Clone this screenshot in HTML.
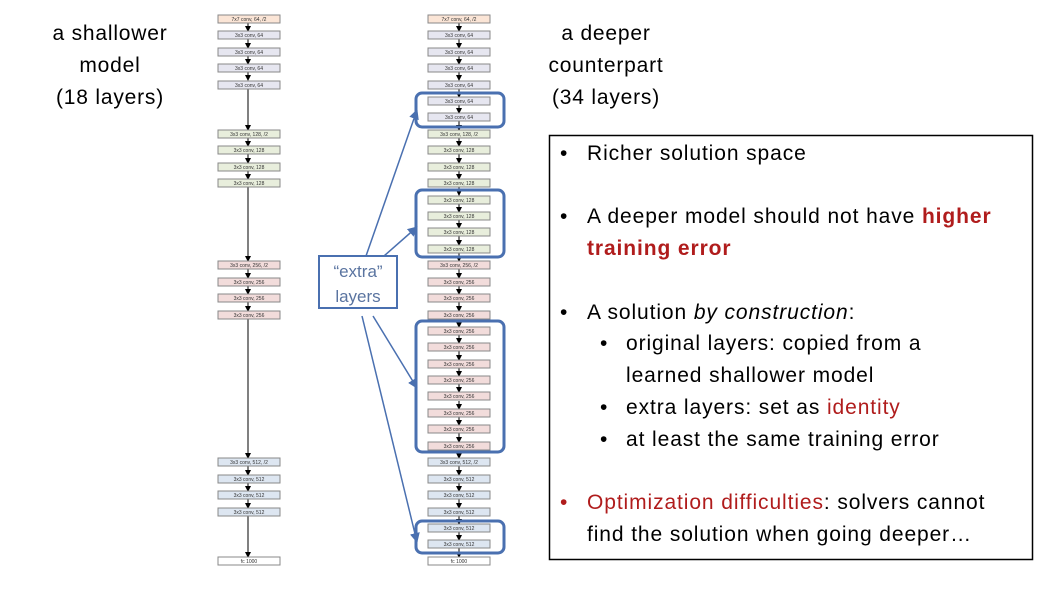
<!DOCTYPE html>
<html><head><meta charset="utf-8"><style>
body{margin:0;width:1058px;height:595px;background:#fff;position:relative;overflow:hidden;font-family:"Liberation Sans",sans-serif}
.t{position:absolute;font-size:21px;letter-spacing:0.9px;color:#000;white-space:nowrap;line-height:1}
.c{text-align:center;width:200px;letter-spacing:0.8px}
.r{color:#b01c1c}
</style></head><body>
<svg width="1058" height="595" style="position:absolute;left:0;top:0" font-family="Liberation Sans, sans-serif">
<defs>
<marker id="a" markerWidth="6" markerHeight="6" refX="5" refY="3" orient="auto" markerUnits="userSpaceOnUse"><path d="M0,0 L6,3 L0,6z" fill="#000"/></marker>
<marker id="b" markerWidth="10" markerHeight="10" refX="9" refY="5" orient="auto" markerUnits="userSpaceOnUse"><path d="M0,0 L10,5 L0,10z" fill="#4a70b0"/></marker>
</defs>
<g stroke="#000" stroke-width="1" marker-end="url(#a)">
<line x1="248" y1="23" x2="248" y2="31"/><line x1="248" y1="39" x2="248" y2="48"/><line x1="248" y1="56" x2="248" y2="64"/><line x1="248" y1="72" x2="248" y2="80"/>
<line x1="248" y1="89" x2="248" y2="130"/>
<line x1="248" y1="138" x2="248" y2="146"/><line x1="248" y1="154" x2="248" y2="163"/><line x1="248" y1="171" x2="248" y2="179"/>
<line x1="248" y1="187" x2="248" y2="261"/>
<line x1="248" y1="269" x2="248" y2="278"/><line x1="248" y1="286" x2="248" y2="294"/><line x1="248" y1="302" x2="248" y2="311"/>
<line x1="248" y1="319" x2="248" y2="458"/>
<line x1="248" y1="466" x2="248" y2="475"/><line x1="248" y1="483" x2="248" y2="491"/><line x1="248" y1="499" x2="248" y2="508"/>
<line x1="248" y1="516" x2="248" y2="557"/>
</g>
<g stroke="#000" stroke-width="1" marker-end="url(#a)">
<line x1="459" y1="23" x2="459" y2="31"/><line x1="459" y1="39" x2="459" y2="48"/><line x1="459" y1="56" x2="459" y2="64"/><line x1="459" y1="72" x2="459" y2="80"/><line x1="459" y1="89" x2="459" y2="97"/><line x1="459" y1="105" x2="459" y2="113"/><line x1="459" y1="121" x2="459" y2="130"/><line x1="459" y1="138" x2="459" y2="146"/><line x1="459" y1="154" x2="459" y2="163"/><line x1="459" y1="171" x2="459" y2="179"/><line x1="459" y1="187" x2="459" y2="195"/><line x1="459" y1="204" x2="459" y2="212"/><line x1="459" y1="220" x2="459" y2="228"/><line x1="459" y1="236" x2="459" y2="245"/><line x1="459" y1="253" x2="459" y2="261"/><line x1="459" y1="269" x2="459" y2="278"/><line x1="459" y1="286" x2="459" y2="294"/><line x1="459" y1="302" x2="459" y2="311"/><line x1="459" y1="319" x2="459" y2="327"/><line x1="459" y1="335" x2="459" y2="343"/><line x1="459" y1="351" x2="459" y2="360"/><line x1="459" y1="368" x2="459" y2="376"/><line x1="459" y1="384" x2="459" y2="392"/><line x1="459" y1="401" x2="459" y2="409"/><line x1="459" y1="417" x2="459" y2="425"/><line x1="459" y1="433" x2="459" y2="442"/><line x1="459" y1="450" x2="459" y2="458"/><line x1="459" y1="466" x2="459" y2="475"/><line x1="459" y1="483" x2="459" y2="491"/><line x1="459" y1="499" x2="459" y2="508"/><line x1="459" y1="516" x2="459" y2="524"/><line x1="459" y1="532" x2="459" y2="540"/><line x1="459" y1="548" x2="459" y2="557"/>
</g>
<g stroke="#888" stroke-width="1" font-size="5" text-anchor="middle">
<g fill="#fbe5d6"><rect x="218" y="15" width="62" height="8"/><rect x="428" y="15" width="62" height="8"/></g>
<g fill="#e6e6f0">
<rect x="218" y="31" width="62" height="8"/><rect x="218" y="48" width="62" height="8"/><rect x="218" y="64" width="62" height="8"/><rect x="218" y="81" width="62" height="8"/>
<rect x="428" y="31" width="62" height="8"/><rect x="428" y="48" width="62" height="8"/><rect x="428" y="64" width="62" height="8"/><rect x="428" y="81" width="62" height="8"/><rect x="428" y="97" width="62" height="8"/><rect x="428" y="113" width="62" height="8"/>
</g>
<g fill="#e8eedc">
<rect x="218" y="130" width="62" height="8"/><rect x="218" y="146" width="62" height="8"/><rect x="218" y="163" width="62" height="8"/><rect x="218" y="179" width="62" height="8"/>
<rect x="428" y="130" width="62" height="8"/><rect x="428" y="146" width="62" height="8"/><rect x="428" y="163" width="62" height="8"/><rect x="428" y="179" width="62" height="8"/><rect x="428" y="196" width="62" height="8"/><rect x="428" y="212" width="62" height="8"/><rect x="428" y="228" width="62" height="8"/><rect x="428" y="245" width="62" height="8"/>
</g>
<g fill="#f2dcdb">
<rect x="218" y="261" width="62" height="8"/><rect x="218" y="278" width="62" height="8"/><rect x="218" y="294" width="62" height="8"/><rect x="218" y="311" width="62" height="8"/>
<rect x="428" y="261" width="62" height="8"/><rect x="428" y="278" width="62" height="8"/><rect x="428" y="294" width="62" height="8"/><rect x="428" y="311" width="62" height="8"/><rect x="428" y="327" width="62" height="8"/><rect x="428" y="343" width="62" height="8"/><rect x="428" y="360" width="62" height="8"/><rect x="428" y="376" width="62" height="8"/><rect x="428" y="392" width="62" height="8"/><rect x="428" y="409" width="62" height="8"/><rect x="428" y="425" width="62" height="8"/><rect x="428" y="442" width="62" height="8"/>
</g>
<g fill="#dde6f1">
<rect x="218" y="458" width="62" height="8"/><rect x="218" y="475" width="62" height="8"/><rect x="218" y="491" width="62" height="8"/><rect x="218" y="508" width="62" height="8"/>
<rect x="428" y="458" width="62" height="8"/><rect x="428" y="475" width="62" height="8"/><rect x="428" y="491" width="62" height="8"/><rect x="428" y="508" width="62" height="8"/><rect x="428" y="524" width="62" height="8"/><rect x="428" y="540" width="62" height="8"/>
</g>
<g fill="#fff"><rect x="218" y="557" width="62" height="8"/><rect x="428" y="557" width="62" height="8"/></g>
<g fill="#333" stroke="none">
<text x="249" y="21">7x7 conv, 64, /2</text><text x="459" y="21">7x7 conv, 64, /2</text>
<text x="249" y="37">3x3 conv, 64</text><text x="249" y="54">3x3 conv, 64</text><text x="249" y="70">3x3 conv, 64</text><text x="249" y="87">3x3 conv, 64</text>
<text x="459" y="37">3x3 conv, 64</text><text x="459" y="54">3x3 conv, 64</text><text x="459" y="70">3x3 conv, 64</text><text x="459" y="87">3x3 conv, 64</text><text x="459" y="103">3x3 conv, 64</text><text x="459" y="119">3x3 conv, 64</text>
<text x="249" y="136">3x3 conv, 128, /2</text><text x="249" y="152">3x3 conv, 128</text><text x="249" y="169">3x3 conv, 128</text><text x="249" y="185">3x3 conv, 128</text>
<text x="459" y="136">3x3 conv, 128, /2</text><text x="459" y="152">3x3 conv, 128</text><text x="459" y="169">3x3 conv, 128</text><text x="459" y="185">3x3 conv, 128</text><text x="459" y="202">3x3 conv, 128</text><text x="459" y="218">3x3 conv, 128</text><text x="459" y="234">3x3 conv, 128</text><text x="459" y="251">3x3 conv, 128</text>
<text x="249" y="267">3x3 conv, 256, /2</text><text x="249" y="284">3x3 conv, 256</text><text x="249" y="300">3x3 conv, 256</text><text x="249" y="317">3x3 conv, 256</text>
<text x="459" y="267">3x3 conv, 256, /2</text><text x="459" y="284">3x3 conv, 256</text><text x="459" y="300">3x3 conv, 256</text><text x="459" y="317">3x3 conv, 256</text><text x="459" y="333">3x3 conv, 256</text><text x="459" y="349">3x3 conv, 256</text><text x="459" y="366">3x3 conv, 256</text><text x="459" y="382">3x3 conv, 256</text><text x="459" y="398">3x3 conv, 256</text><text x="459" y="415">3x3 conv, 256</text><text x="459" y="431">3x3 conv, 256</text><text x="459" y="448">3x3 conv, 256</text>
<text x="249" y="464">3x3 conv, 512, /2</text><text x="249" y="481">3x3 conv, 512</text><text x="249" y="497">3x3 conv, 512</text><text x="249" y="514">3x3 conv, 512</text>
<text x="459" y="464">3x3 conv, 512, /2</text><text x="459" y="481">3x3 conv, 512</text><text x="459" y="497">3x3 conv, 512</text><text x="459" y="514">3x3 conv, 512</text><text x="459" y="530">3x3 conv, 512</text><text x="459" y="546">3x3 conv, 512</text>
<text x="249" y="563">fc 1000</text><text x="459" y="563">fc 1000</text>
</g>
</g>
<g fill="none" stroke="#4a70b0" stroke-width="3">
<rect x="416" y="93" width="88" height="34" rx="6"/>
<rect x="416" y="190" width="88" height="67" rx="6"/>
<rect x="416" y="321" width="88" height="131" rx="6"/>
<rect x="416" y="521" width="88" height="32" rx="6"/>
</g>
<g stroke="#4a70b0" stroke-width="1.5" marker-end="url(#b)">
<line x1="366" y1="256" x2="417" y2="110"/>
<line x1="384" y1="256" x2="417" y2="227"/>
<line x1="373" y1="316" x2="417" y2="388"/>
<line x1="362" y1="316" x2="417" y2="542"/>
</g>
<rect x="319" y="256" width="78" height="52" fill="#fff" stroke="#4a70b0" stroke-width="2"/>
<text x="358" y="277" font-size="17" fill="#5a74a0" text-anchor="middle">“extra”</text>
<text x="358" y="302" font-size="17" fill="#5a74a0" text-anchor="middle">layers</text>
<rect x="549.5" y="135.5" width="483" height="424" fill="none" stroke="#000" stroke-width="1.5"/>
</svg>
<div class="t c" style="left:10px;top:23px">a shallower</div>
<div class="t c" style="left:10px;top:55px">model</div>
<div class="t c" style="left:10px;top:87px">(18 layers)</div>
<div class="t c" style="left:506px;top:23px">a deeper</div>
<div class="t c" style="left:506px;top:55px">counterpart</div>
<div class="t c" style="left:506px;top:87px">(34 layers)</div>

<div class="t" style="left:560px;top:143px">•</div><div class="t" style="left:587px;top:143px">Richer solution space</div>
<div class="t" style="left:560px;top:206px">•</div><div class="t" style="left:587px;top:206px">A deeper model should not have <b class="r">higher</b></div>
<div class="t" style="left:587px;top:238px"><b class="r">training error</b></div>
<div class="t" style="left:560px;top:302px">•</div><div class="t" style="left:587px;top:302px">A solution <i>by construction</i>:</div>
<div class="t" style="left:600px;top:333px">•</div><div class="t" style="left:626px;top:333px">original layers: copied from a</div>
<div class="t" style="left:626px;top:365px">learned shallower model</div>
<div class="t" style="left:600px;top:397px">•</div><div class="t" style="left:626px;top:397px">extra layers: set as <span class="r">identity</span></div>
<div class="t" style="left:600px;top:429px">•</div><div class="t" style="left:626px;top:429px">at least the same training error</div>
<div class="t r" style="left:560px;top:492px">•</div><div class="t" style="left:587px;top:492px"><span class="r">Optimization difficulties</span>: solvers cannot</div>
<div class="t" style="left:587px;top:524px">find the solution when going deeper…</div>
</body></html>
